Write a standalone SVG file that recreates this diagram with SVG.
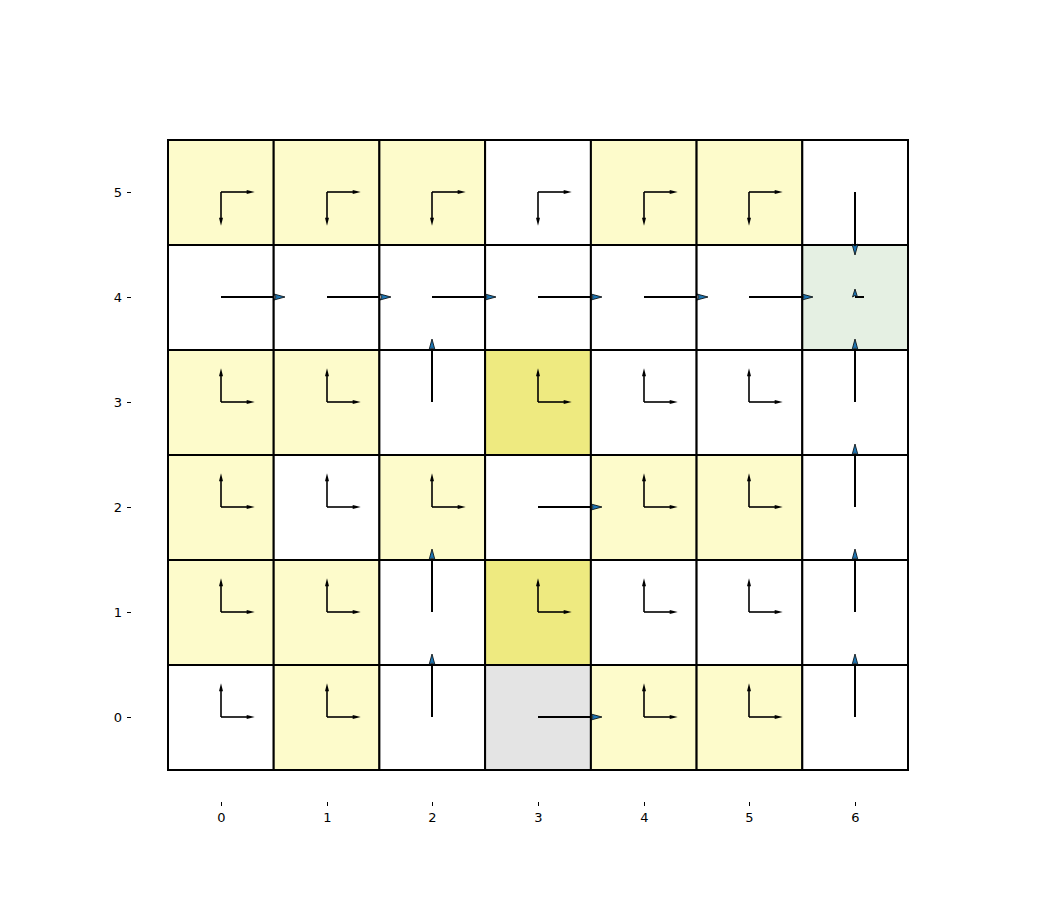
<svg xmlns="http://www.w3.org/2000/svg" width="1050" height="900" viewBox="0 0 1050 900">
<defs>
<style>
.cell{stroke:#000;stroke-width:2}
.y1{fill:#fdfbcb}
.y2{fill:#eeea80}
.w{fill:#fff}
.g{fill:#e4e4e4}
.gr{fill:#e5f0e3}
.s{stroke:#000;stroke-width:1.6;fill:none}
.b{stroke:#000;stroke-width:2;fill:none}
.bh{fill:#1f77b4;stroke:#000;stroke-width:0.8}
.sh{fill:#000}
.t{font-family:"DejaVu Sans",sans-serif;font-size:13px;fill:#000}
.tk{stroke:#000;stroke-width:1}
</style>
<marker id="sm" markerUnits="userSpaceOnUse" markerWidth="8" markerHeight="6" refX="0" refY="2" orient="auto" viewBox="0 0 6 4" overflow="visible"><path d="M-1,0.5 L5,2 L-1,3.5 Z" class="sh"/></marker>
<marker id="bg" markerUnits="userSpaceOnUse" markerWidth="12" markerHeight="8" refX="0" refY="0" orient="auto" viewBox="0 -4 12 8" overflow="visible"><path d="M0,-3 L11,0 L0,3 L2,0 Z" class="bh"/></marker>
</defs>
<rect width="1050" height="900" fill="#fff"/>
<g id="cells">
<!-- row 5 y=140 -->
<rect id="c0_5" class="cell y1" x="168" y="140" width="105.7" height="105"/>
<rect id="c1_5" class="cell y1" x="273.7" y="140" width="105.7" height="105"/>
<rect id="c2_5" class="cell y1" x="379.4" y="140" width="105.7" height="105"/>
<rect id="c3_5" class="cell w" x="485.1" y="140" width="105.8" height="105"/>
<rect id="c4_5" class="cell y1" x="590.9" y="140" width="105.7" height="105"/>
<rect id="c5_5" class="cell y1" x="696.6" y="140" width="105.7" height="105"/>
<rect id="c6_5" class="cell w" x="802.3" y="140" width="105.7" height="105"/>
<!-- row 4 -->
<rect id="c0_4" class="cell w" x="168" y="245" width="105.7" height="105"/>
<rect id="c1_4" class="cell w" x="273.7" y="245" width="105.7" height="105"/>
<rect id="c2_4" class="cell w" x="379.4" y="245" width="105.7" height="105"/>
<rect id="c3_4" class="cell w" x="485.1" y="245" width="105.8" height="105"/>
<rect id="c4_4" class="cell w" x="590.9" y="245" width="105.7" height="105"/>
<rect id="c5_4" class="cell w" x="696.6" y="245" width="105.7" height="105"/>
<rect id="c6_4" class="cell gr" x="802.3" y="245" width="105.7" height="105"/>
<!-- row 3 -->
<rect id="c0_3" class="cell y1" x="168" y="350" width="105.7" height="105"/>
<rect id="c1_3" class="cell y1" x="273.7" y="350" width="105.7" height="105"/>
<rect id="c2_3" class="cell w" x="379.4" y="350" width="105.7" height="105"/>
<rect id="c3_3" class="cell y2" x="485.1" y="350" width="105.8" height="105"/>
<rect id="c4_3" class="cell w" x="590.9" y="350" width="105.7" height="105"/>
<rect id="c5_3" class="cell w" x="696.6" y="350" width="105.7" height="105"/>
<rect id="c6_3" class="cell w" x="802.3" y="350" width="105.7" height="105"/>
<!-- row 2 -->
<rect id="c0_2" class="cell y1" x="168" y="455" width="105.7" height="105"/>
<rect id="c1_2" class="cell w" x="273.7" y="455" width="105.7" height="105"/>
<rect id="c2_2" class="cell y1" x="379.4" y="455" width="105.7" height="105"/>
<rect id="c3_2" class="cell w" x="485.1" y="455" width="105.8" height="105"/>
<rect id="c4_2" class="cell y1" x="590.9" y="455" width="105.7" height="105"/>
<rect id="c5_2" class="cell y1" x="696.6" y="455" width="105.7" height="105"/>
<rect id="c6_2" class="cell w" x="802.3" y="455" width="105.7" height="105"/>
<!-- row 1 -->
<rect id="c0_1" class="cell y1" x="168" y="560" width="105.7" height="105"/>
<rect id="c1_1" class="cell y1" x="273.7" y="560" width="105.7" height="105"/>
<rect id="c2_1" class="cell w" x="379.4" y="560" width="105.7" height="105"/>
<rect id="c3_1" class="cell y2" x="485.1" y="560" width="105.8" height="105"/>
<rect id="c4_1" class="cell w" x="590.9" y="560" width="105.7" height="105"/>
<rect id="c5_1" class="cell w" x="696.6" y="560" width="105.7" height="105"/>
<rect id="c6_1" class="cell w" x="802.3" y="560" width="105.7" height="105"/>
<!-- row 0 -->
<rect id="c0_0" class="cell w" x="168" y="665" width="105.7" height="105"/>
<rect id="c1_0" class="cell y1" x="273.7" y="665" width="105.7" height="105"/>
<rect id="c2_0" class="cell w" x="379.4" y="665" width="105.7" height="105"/>
<rect id="c3_0" class="cell g" x="485.1" y="665" width="105.8" height="105"/>
<rect id="c4_0" class="cell y1" x="590.9" y="665" width="105.7" height="105"/>
<rect id="c5_0" class="cell y1" x="696.6" y="665" width="105.7" height="105"/>
<rect id="c6_0" class="cell w" x="802.3" y="665" width="105.7" height="105"/>
</g>
<g id="connectors">
<!-- row 5 small right+down -->
<g class="s" marker-end="url(#sm)">
<path d="M221,192 H248"/><path d="M221,192 V219"/>
<path d="M327,192 H354"/><path d="M327,192 V219"/>
<path d="M432,192 H459"/><path d="M432,192 V219"/>
<path d="M538,192 H565"/><path d="M538,192 V219"/>
<path d="M644,192 H671"/><path d="M644,192 V219"/>
<path d="M749,192 H776"/><path d="M749,192 V219"/>
<!-- row 3 -->
<path d="M221,402 H248"/><path d="M221,402 V375"/>
<path d="M327,402 H354"/><path d="M327,402 V375"/>
<path d="M538,402 H565"/><path d="M538,402 V375"/>
<path d="M644,402 H671"/><path d="M644,402 V375"/>
<path d="M749,402 H776"/><path d="M749,402 V375"/>
<!-- row 2 -->
<path d="M221,507 H248"/><path d="M221,507 V480"/>
<path d="M327,507 H354"/><path d="M327,507 V480"/>
<path d="M432,507 H459"/><path d="M432,507 V480"/>
<path d="M644,507 H671"/><path d="M644,507 V480"/>
<path d="M749,507 H776"/><path d="M749,507 V480"/>
<!-- row 1 -->
<path d="M221,612 H248"/><path d="M221,612 V585"/>
<path d="M327,612 H354"/><path d="M327,612 V585"/>
<path d="M538,612 H565"/><path d="M538,612 V585"/>
<path d="M644,612 H671"/><path d="M644,612 V585"/>
<path d="M749,612 H776"/><path d="M749,612 V585"/>
<!-- row 0 -->
<path d="M221,717 H248"/><path d="M221,717 V690"/>
<path d="M327,717 H354"/><path d="M327,717 V690"/>
<path d="M644,717 H671"/><path d="M644,717 V690"/>
<path d="M749,717 H776"/><path d="M749,717 V690"/>
</g>
<g class="b" marker-end="url(#bg)">
<path d="M221,297 H274"/>
<path d="M327,297 H380"/>
<path d="M432,297 H485"/>
<path d="M538,297 H591"/>
<path d="M644,297 H697"/>
<path d="M749,297 H802"/>
<path d="M855,192 V244"/>
<path d="M855,402 V350"/>
<path d="M855,507 V455"/>
<path d="M855,612 V560"/>
<path d="M855,717 V665"/>
<path d="M432,402 V350"/>
<path d="M432,612 V560"/>
<path d="M432,717 V665"/>
<path d="M538,507 H591"/>
<path d="M538,717 H591"/>
</g>
<path class="b" d="M855,297 H864"/>
<path class="bh" d="M852.5,297 L855,289 L857.5,297 L855,295.5 Z"/>
</g>
<g id="axes">
<g class="tk">
<path d="M127,192.5 H131"/><path d="M127,297.5 H131"/><path d="M127,402.5 H131"/><path d="M127,507.5 H131"/><path d="M127,612.5 H131"/><path d="M127,717.5 H131"/>
<path d="M221.5,802 V806"/><path d="M327.5,802 V806"/><path d="M432.5,802 V806"/><path d="M538.5,802 V806"/><path d="M644.5,802 V806"/><path d="M749.5,802 V806"/><path d="M855.5,802 V806"/>
</g>
<g class="t" text-anchor="end">
<text x="122" y="197">5</text><text x="122" y="302">4</text><text x="122" y="407">3</text><text x="122" y="512">2</text><text x="122" y="617">1</text><text x="122" y="722">0</text>
</g>
<g class="t" text-anchor="middle">
<text x="221.5" y="822">0</text><text x="327.5" y="822">1</text><text x="432.5" y="822">2</text><text x="538.5" y="822">3</text><text x="644.5" y="822">4</text><text x="749.5" y="822">5</text><text x="855.5" y="822">6</text>
</g>
</g>
</svg>
